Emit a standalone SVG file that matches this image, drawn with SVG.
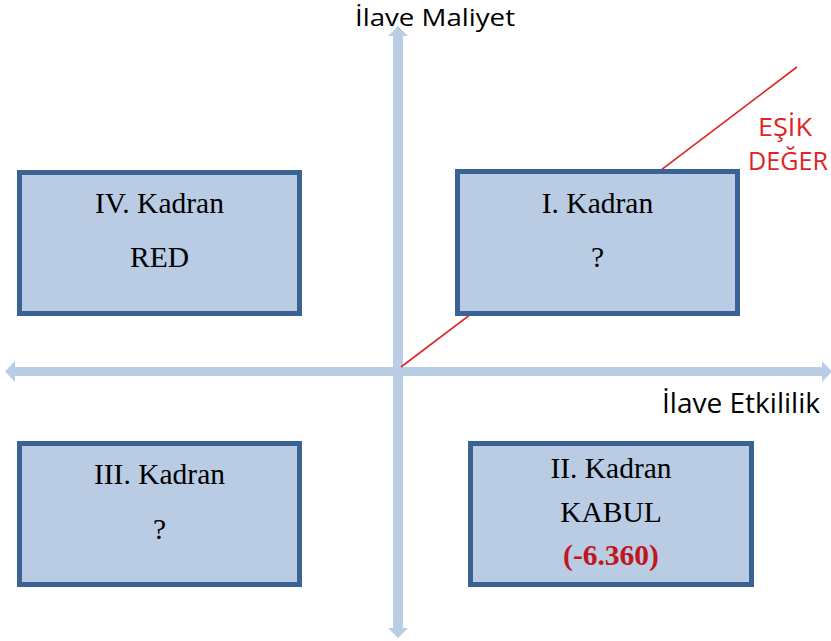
<svg xmlns="http://www.w3.org/2000/svg" width="831" height="641" viewBox="0 0 831 641">
<style>
.box{fill:#b9cce4;stroke:#3a6294;stroke-width:5}
.axis{fill:#b9cde5}
.t{font-family:"Liberation Serif","Times New Roman",serif;font-size:29.5px;fill:#000;text-anchor:middle}
.v{fill:#c0161c;font-weight:bold}
.s{font-family:"Open Sans","Noto Sans","DejaVu Sans",sans-serif;fill:#000}
.red{font-family:"Open Sans","Noto Sans","DejaVu Sans",sans-serif;fill:#e02424;font-size:26px;text-anchor:middle}
</style>
<rect width="831" height="641" fill="#fff"/>
<g id="connectors">
<polygon class="axis" points="398,26 408,36 403,36 403,628 408,628 398,638 388,628 393,628 393,36 388,36"/>
<polygon class="axis" points="5,371.5 15,361 15,367 822,367 822,361 832,371.5 822,382 822,376 15,376 15,382"/>
<line x1="401" y1="367" x2="797" y2="67" stroke="#e02424" stroke-width="1.6"/>
</g>
<g id="label-y"><text class="s" x="355" y="26" font-size="24" textLength="160" lengthAdjust="spacingAndGlyphs">İlave Maliyet</text></g>
<g id="label-x"><text class="s" x="662" y="413" font-size="27" textLength="158" lengthAdjust="spacingAndGlyphs">İlave Etkililik</text></g>
<g id="label-esik"><text class="red" x="785" y="136" textLength="54" lengthAdjust="spacingAndGlyphs">EŞİK</text><text class="red" x="788" y="170" textLength="80" lengthAdjust="spacingAndGlyphs">DEĞER</text></g>
<g id="q4"><rect class="box" x="19.5" y="172.5" width="280" height="141"/><text class="t" x="159.5" y="213">IV. Kadran</text><text class="t" x="159.5" y="267">RED</text></g>
<g id="q1"><rect class="box" x="457.5" y="171.5" width="280" height="142"/><text class="t" x="597.5" y="213">I. Kadran</text><text class="t" x="597.5" y="267">?</text></g>
<g id="q3"><rect class="box" x="19.5" y="443.5" width="280" height="141"/><text class="t" x="159.5" y="484">III. Kadran</text><text class="t" x="159.5" y="539">?</text></g>
<g id="q2"><rect class="box" x="470.5" y="443.5" width="281" height="141"/><text class="t" x="611" y="478">II. Kadran</text><text class="t" x="611" y="522">KABUL</text><text class="t v" x="611" y="565">(-6.360)</text></g>
</svg>
